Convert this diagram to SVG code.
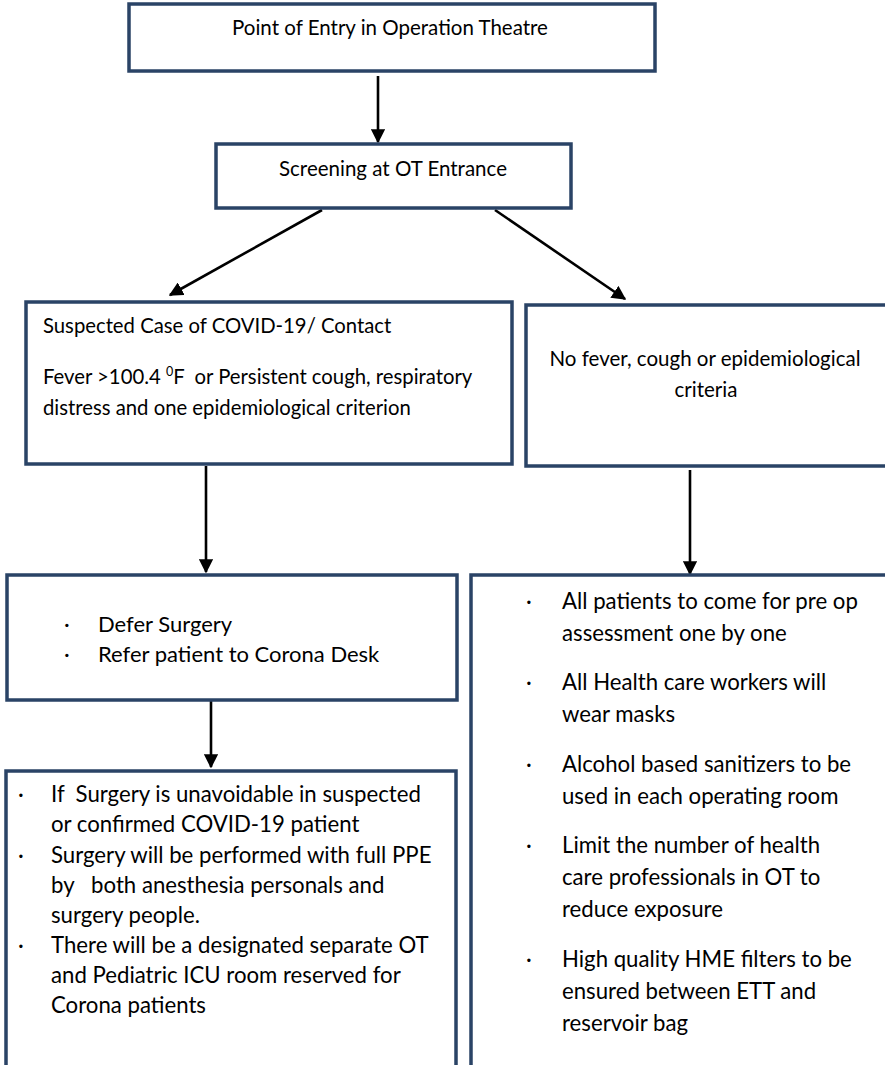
<svg xmlns="http://www.w3.org/2000/svg" width="885" height="1065" viewBox="0 0 885 1065">
<defs>
<style>
.box{fill:#ffffff;stroke:#2a4366;stroke-width:3.5}
.t{font-family:Lato,"Liberation Sans",sans-serif;fill:#000;white-space:pre}
.c{stroke:#000;stroke-width:2.6;fill:none}
</style>
<marker id="ah" viewBox="0 0 10 10" refX="9" refY="5" markerWidth="5.5" markerHeight="5.5" markerUnits="strokeWidth" orient="auto">
<path d="M0,0 L10,5 L0,10 Z" fill="#000"/>
</marker>
</defs>
<rect width="885" height="1065" fill="#fff"/>
<g id="connectors">
<line class="c" x1="378" y1="76" x2="378" y2="142" marker-end="url(#ah)"/>
<line class="c" x1="322" y1="210" x2="170" y2="295" marker-end="url(#ah)"/>
<line class="c" x1="495" y1="210" x2="625" y2="299" marker-end="url(#ah)"/>
<line class="c" x1="206" y1="466" x2="206" y2="572" marker-end="url(#ah)"/>
<line class="c" x1="690" y1="470" x2="690" y2="574" marker-end="url(#ah)"/>
<line class="c" x1="211" y1="701" x2="211" y2="767" marker-end="url(#ah)"/>
</g>
<g id="n1">
<rect class="box" x="129" y="4" width="526" height="67"/>
<text class="t" x="390" y="35" font-size="20.5" text-anchor="middle">Point of Entry in Operation Theatre</text>
</g>
<g id="n2">
<rect class="box" x="216" y="144" width="355" height="64"/>
<text class="t" x="393" y="176" font-size="20.5" text-anchor="middle">Screening at OT Entrance</text>
</g>
<g id="n3">
<rect class="box" x="26" y="302" width="486" height="162"/>
<text class="t" x="43" y="333" font-size="20.3" xml:space="preserve">Suspected Case of COVID-19/ Contact</text>
<text class="t" x="43" y="384" font-size="20.3" xml:space="preserve">Fever &gt;100.4 <tspan font-size="12.5" dy="-8">0</tspan><tspan dy="8">F  or Persistent cough, respiratory</tspan></text>
<text class="t" x="43" y="415" font-size="20.3">distress and one epidemiological criterion</text>
</g>
<g id="n4">
<rect class="box" x="526" y="305" width="362" height="161"/>
<text class="t" x="705" y="366" font-size="20.5" text-anchor="middle">No fever, cough or epidemiological</text>
<text class="t" x="706" y="397" font-size="20.5" text-anchor="middle">criteria</text>
</g>
<g id="n5">
<rect class="box" x="7" y="575" width="450" height="125"/>
<text class="t" x="64" y="632" font-size="22">·</text>
<text class="t" x="98" y="632" font-size="22">Defer Surgery</text>
<text class="t" x="64" y="662" font-size="22">·</text>
<text class="t" x="98" y="662" font-size="22">Refer patient to Corona Desk</text>
</g>
<g id="n6">
<rect class="box" x="6" y="771" width="450" height="300"/>
<g class="t" font-size="22.2">
<text x="18" y="802">·</text>
<text x="51" y="802" xml:space="preserve">If  Surgery is unavoidable in suspected</text>
<text x="51" y="832">or confirmed COVID-19 patient</text>
<text x="18" y="863">·</text>
<text x="51" y="863">Surgery will be performed with full PPE</text>
<text x="51" y="893" xml:space="preserve">by   both anesthesia personals and</text>
<text x="51" y="923">surgery people.</text>
<text x="18" y="953">·</text>
<text x="51" y="953">There will be a designated separate OT</text>
<text x="51" y="983">and Pediatric ICU room reserved for</text>
<text x="51" y="1013">Corona patients</text>
</g>
</g>
<g id="n7">
<rect class="box" x="471" y="575" width="420" height="500"/>
<g class="t" font-size="22.2">
<text x="526" y="609">·</text>
<text x="562" y="609">All patients to come for pre op</text>
<text x="562" y="641">assessment one by one</text>
<text x="526" y="690">·</text>
<text x="562" y="690">All Health care workers will</text>
<text x="562" y="722">wear masks</text>
<text x="526" y="772">·</text>
<text x="562" y="772">Alcohol based sanitizers to be</text>
<text x="562" y="804">used in each operating room</text>
<text x="526" y="853">·</text>
<text x="562" y="853">Limit the number of health</text>
<text x="562" y="885">care professionals in OT to</text>
<text x="562" y="917">reduce exposure</text>
<text x="526" y="967">·</text>
<text x="562" y="967">High quality HME filters to be</text>
<text x="562" y="999">ensured between ETT and</text>
<text x="562" y="1031">reservoir bag</text>
</g>
</g>
</svg>
